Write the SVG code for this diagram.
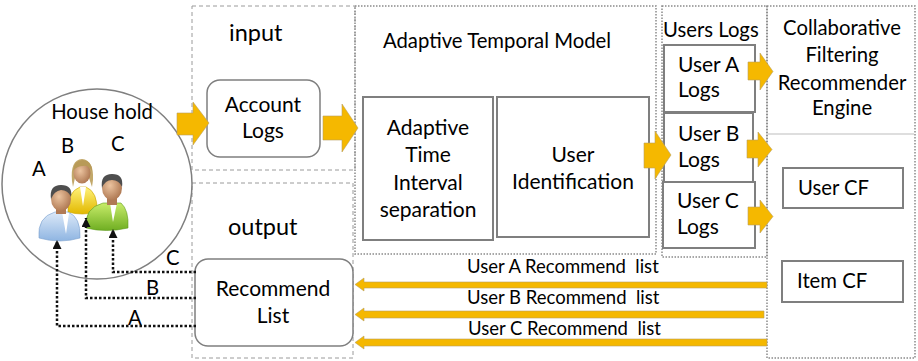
<svg xmlns="http://www.w3.org/2000/svg" width="918" height="361" viewBox="0 0 918 361">
  <style>
    text { font-family: Lato, "Liberation Sans", Arial, sans-serif; fill: #000; }
    .t23 { font-size: 23.5px; }
    .t21 { font-size: 21px; }
    .t20 { font-size: 20.3px; }
    .t18 { font-size: 18.5px; }
    .mid { text-anchor: middle; }
    .dash { fill: none; stroke: #9a9a9a; stroke-width: 1; stroke-dasharray: 4 3; }
    .dot { fill: none; stroke: #8a8a8a; stroke-width: 1.5; stroke-dasharray: 1.5 1.5; }
    .box { fill: #fff; stroke: #7f7f7f; stroke-width: 2; }
    .rbox { fill: #fff; stroke: #7f7f7f; stroke-width: 1.5; }
    .blk { fill: #F5B800; stroke: #b8a060; stroke-width: 0.6; }
    .link { fill: none; stroke: #111; stroke-width: 2.5; stroke-dasharray: 2.5 2; }
    .skin { fill: url(#skin); }
  </style>
  <defs>
    <marker id="tri" viewBox="0 0 10 10" refX="10" refY="5" markerWidth="9" markerHeight="9" markerUnits="userSpaceOnUse" orient="auto">
      <path d="M0,0 L10,5 L0,10 z" fill="#111"/>
    </marker>
    <radialGradient id="skin" cx="0.4" cy="0.4" r="0.7">
      <stop offset="0" stop-color="#ecc4a0"/>
      <stop offset="1" stop-color="#a8704a"/>
    </radialGradient>
    <linearGradient id="blue" x1="0" y1="0" x2="0" y2="1">
      <stop offset="0" stop-color="#dce9f8"/>
      <stop offset="1" stop-color="#8fb5e2"/>
    </linearGradient>
    <linearGradient id="yellow" x1="0" y1="0" x2="0" y2="1">
      <stop offset="0" stop-color="#fff27a"/>
      <stop offset="1" stop-color="#e2b800"/>
    </linearGradient>
    <linearGradient id="green" x1="0" y1="0" x2="0" y2="1">
      <stop offset="0" stop-color="#c8ec6a"/>
      <stop offset="1" stop-color="#6fae22"/>
    </linearGradient>
  </defs>

  <rect width="918" height="361" fill="#fff"/>

  <!-- section frames -->
  <g id="frames">
    <rect class="dash" x="192" y="6" width="163" height="164"/>
    <rect class="dash" x="192" y="183" width="161" height="175"/>
    <rect class="dot" x="355" y="6" width="301" height="248"/>
    <rect class="dot" x="662" y="6" width="105" height="251"/>
    <rect class="dot" x="767" y="6" width="148" height="352"/>
    <line x1="768" y1="134" x2="914" y2="134" stroke="#bdbdbd" stroke-width="1.2"/>
  </g>

  <!-- household -->
  <g id="household">
    <circle cx="97" cy="184" r="95" fill="#fff" stroke="#7f7f7f" stroke-width="1.5"/>
    <text class="t20 mid" x="102" y="119">House hold</text>
    <text class="t20" x="32" y="176">A</text>
    <text class="t20" x="61" y="153">B</text>
    <text class="t20" x="111" y="151">C</text>
    <!-- user B (back) -->
    <g id="userB">
      <path d="M68,212 Q67,192 80,187 L86,187 Q98,192 97,212 Q82,216 68,212 Z" fill="url(#yellow)" stroke="#c9a200" stroke-width="0.6"/>
      <path d="M80,187 L83,206 L86,187 Z" fill="#fff"/>
      <path d="M72,181 Q70,160 82,159 Q94,160 93,180 L92,187 L89,178 L75,178 L73,187 Z" fill="#c2a86a"/>
      <ellipse class="skin" cx="82" cy="173" rx="8.5" ry="10.5"/>
      <path d="M73,171 Q74,160 83,160 Q92,161 92,171 Q88,165 83,166 Q77,166 73,171 Z" fill="#b89a58"/>
    </g>
    <!-- user C -->
    <g id="userC">
      <path d="M86,228 Q84,208 103,203 L121,203 Q129,210 128,228 Q106,233 86,228 Z" fill="url(#green)" stroke="#5e9a1c" stroke-width="0.6"/>
      <path d="M110,203 L113,222 L117,203 Z" fill="#fff"/>
      <rect x="107" y="196" width="10" height="9" fill="#b07a55"/>
      <ellipse class="skin" cx="112" cy="188" rx="10" ry="12"/>
      <path d="M102,188 Q100,174 112,174 Q124,174 122,187 Q119,180 112,180 Q105,180 102,188 Z" fill="#4e4e4e"/>
    </g>
    <!-- user A (front) -->
    <g id="userA">
      <path d="M39,238 Q37,217 55,212 L68,212 Q81,217 80,238 Q60,244 39,238 Z" fill="url(#blue)" stroke="#7b9fcc" stroke-width="0.6"/>
      <path d="M62,212 L66,234 L69,213 Z" fill="#fff"/>
      <rect x="56" y="205" width="10" height="9" fill="#b07a55"/>
      <ellipse class="skin" cx="61" cy="199" rx="10" ry="12"/>
      <path d="M51,199 Q49,185 61,185 Q73,185 71,197 Q68,190 61,190 Q54,191 51,199 Z" fill="#4e4e4e"/>
    </g>
  </g>

  <!-- input / output -->
  <g id="input">
    <text class="t23" x="229" y="41">input</text>
  </g>
  <g id="account-logs">
    <rect class="rbox" x="207" y="80" width="113" height="77" rx="13"/>
    <text class="t21 mid" x="263" y="112">Account</text>
    <text class="t21 mid" x="263" y="138">Logs</text>
  </g>
  <g id="output">
    <text class="t23" x="228" y="235">output</text>
  </g>
  <g id="recommend-list">
    <rect class="rbox" x="195" y="259" width="158" height="87" rx="13"/>
    <text class="t21 mid" x="273" y="296">Recommend</text>
    <text class="t21 mid" x="273" y="323">List</text>
  </g>

  <!-- adaptive temporal model -->
  <g id="adaptive-model">
    <text class="t20" x="383" y="48" font-size="20.8px">Adaptive Temporal Model</text>
  </g>
  <g id="time-interval">
    <rect class="box" x="363" y="97" width="130" height="143"/>
    <text class="t21 mid" x="428" y="135">Adaptive</text>
    <text class="t21 mid" x="428" y="162">Time</text>
    <text class="t21 mid" x="428" y="190">Interval</text>
    <text class="t21 mid" x="428" y="217">separation</text>
  </g>
  <g id="user-identification">
    <rect class="box" x="497" y="97" width="152" height="140"/>
    <text class="t21 mid" x="573" y="162">User</text>
    <text class="t21 mid" x="573" y="189">Identification</text>
  </g>

  <!-- per-user logs -->
  <g id="users-logs">
    <text class="t20" x="663" y="37">Users Logs</text>
  </g>
  <g id="user-a-logs">
    <rect class="box" x="664" y="45" width="91" height="67"/>
    <text class="t21" x="678" y="72">User A</text>
    <text class="t21" x="678" y="97">Logs</text>
  </g>
  <g id="user-b-logs">
    <rect class="box" x="664" y="113" width="89" height="69"/>
    <text class="t21" x="678" y="141">User B</text>
    <text class="t21" x="678" y="167">Logs</text>
  </g>
  <g id="user-c-logs">
    <rect class="box" x="663" y="182" width="92" height="66"/>
    <text class="t21" x="677" y="208">User C</text>
    <text class="t21" x="677" y="234">Logs</text>
  </g>

  <!-- recommender engine -->
  <g id="cf-engine">
    <text class="t20 mid" x="842" y="35">Collaborative</text>
    <text class="t20 mid" x="842" y="62">Filtering</text>
    <text class="t20 mid" x="842" y="90">Recommender</text>
    <text class="t20 mid" x="842" y="115">Engine</text>
  </g>
  <g id="user-cf">
    <rect class="box" x="783" y="168" width="120" height="40"/>
    <text class="t20" x="798" y="195">User CF</text>
  </g>
  <g id="item-cf">
    <rect class="box" x="782" y="261" width="121" height="41"/>
    <text class="t20" x="797" y="288">Item CF</text>
  </g>

  <!-- connectors -->
  <g id="connectors">
    <polygon class="blk" points="177,113 193,113 193,102 209,123 193,145 193,135 177,135"/>
    <polygon class="blk" points="323,116 342,116 342,104 358,128 342,152 342,140 323,140"/>
    <polygon class="blk" points="644,143 655,143 655,131 671,155 655,179 655,168 644,168"/>
    <polygon class="blk" points="748,62 760,62 760,53 773,71.5 760,90 760,80 748,80"/>
    <polygon class="blk" points="747,140 758,140 758,132 772,149.5 758,167 758,158 747,158"/>
    <polygon class="blk" points="748,207 760,207 760,200 773,216.5 760,233 760,225 748,225"/>

    <polygon class="blk" points="767,282 364,282 364,278 355,284.5 364,291 364,288 767,288"/>
    <polygon class="blk" points="764,311 364,311 364,308 355,314.5 364,321 364,318 764,318"/>
    <polygon class="blk" points="767,339 364,339 364,336 355,342.5 364,349 364,346 767,346"/>
    <text class="t18" x="467" y="273" xml:space="preserve">User A Recommend  list</text>
    <text class="t18" x="467" y="304" xml:space="preserve">User B Recommend  list</text>
    <text class="t18" x="468" y="335" xml:space="preserve">User C Recommend  list</text>

    <path class="link" d="M196,272 H113 V229" marker-end="url(#tri)"/>
    <path class="link" d="M196,298 H86 V218" marker-end="url(#tri)"/>
    <path class="link" d="M196,326 H57 V240" marker-end="url(#tri)"/>
    <text class="t20" x="166" y="265">C</text>
    <text class="t20" x="146" y="295">B</text>
    <text class="t20" x="128" y="325">A</text>
  </g>
</svg>
